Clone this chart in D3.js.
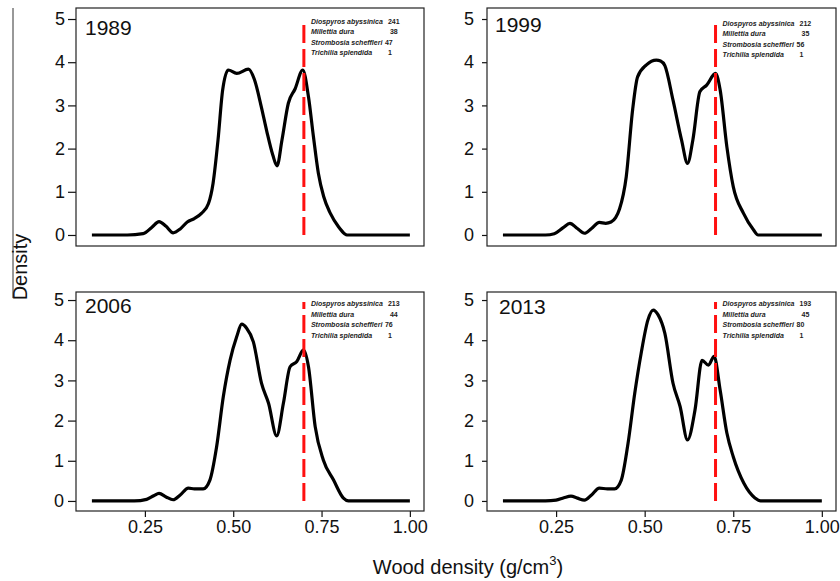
<!DOCTYPE html>
<html>
<head>
<meta charset="utf-8">
<script src="https://cdn.jsdelivr.net/npm/d3@7"></script>
<style>
  body { margin: 0; background: #fff; }
  svg { display: block; }
  text { font-family: "Liberation Sans", Arial, sans-serif; }
</style>
</head>
<body>
<div class="container"></div>
<script>
// data
const years = ["1989", "1999", "2006", "2013"];
const speciesNames = ["Diospyros  abyssinica", "Millettia dura", "Strombosia scheffleri", "Trichilia splendida"];
const counts1989 = [241, 38, 47, 1];
const counts1999 = [212, 35, 56, 1];
const counts2006 = [213, 44, 76, 1];
const counts2013 = [193, 45, 80, 1];
const refLine = 0.7;
const xTicks = [0.25, 0.5, 0.75, 1.0];
const yTicks = [0, 1, 2, 3, 4, 5];

// [wood density, kernel density]
const curve1989 = [[0.10, 0], [0.20, 0], [0.245, 0.03], [0.27, 0.18], [0.29, 0.31], [0.31, 0.2], [0.33, 0.05], [0.35, 0.14],
  [0.37, 0.3], [0.39, 0.38], [0.41, 0.5], [0.43, 0.73], [0.443, 1.2], [0.457, 2.2], [0.47, 3.35], [0.486, 3.82], [0.51, 3.74],
  [0.543, 3.84], [0.56, 3.6], [0.58, 2.95], [0.595, 2.4], [0.612, 1.85], [0.624, 1.6], [0.638, 2.2], [0.656, 3.05],
  [0.675, 3.38], [0.697, 3.82], [0.713, 3.2], [0.727, 2.28], [0.741, 1.43], [0.756, 0.89], [0.775, 0.5], [0.798, 0.19],
  [0.815, 0.03], [0.822, 0], [1.0, 0]];
const curve1999 = [[0.10, 0], [0.22, 0], [0.245, 0.03], [0.27, 0.17], [0.289, 0.27], [0.31, 0.15], [0.33, 0.04], [0.35, 0.15],
  [0.372, 0.29], [0.39, 0.27], [0.405, 0.3], [0.418, 0.4], [0.429, 0.6], [0.448, 1.35], [0.466, 2.9], [0.48, 3.66],
  [0.505, 3.94], [0.533, 4.05], [0.545, 4.03], [0.557, 3.92], [0.58, 3.12], [0.604, 2.2], [0.621, 1.66], [0.636, 2.2],
  [0.656, 3.32], [0.675, 3.47], [0.70, 3.74], [0.713, 3.36], [0.732, 2.04], [0.75, 1.12], [0.779, 0.5], [0.807, 0.12],
  [0.82, 0], [1.0, 0]];
const curve2006 = [[0.10, 0], [0.22, 0], [0.255, 0.04], [0.275, 0.13], [0.29, 0.19], [0.31, 0.1], [0.33, 0.03], [0.35, 0.15],
  [0.373, 0.32], [0.39, 0.3], [0.415, 0.3], [0.434, 0.52], [0.453, 1.35], [0.472, 2.6], [0.491, 3.5], [0.51, 4.09],
  [0.524, 4.4], [0.538, 4.3], [0.557, 3.96], [0.58, 2.93], [0.60, 2.43], [0.623, 1.62], [0.642, 2.43], [0.661, 3.34],
  [0.68, 3.47], [0.699, 3.76], [0.713, 3.34], [0.732, 1.85], [0.755, 1.02], [0.784, 0.52], [0.812, 0.07], [0.826, 0], [1.0, 0]];
const curve2013 = [[0.10, 0], [0.22, 0], [0.25, 0.02], [0.272, 0.08], [0.292, 0.12], [0.31, 0.07], [0.33, 0.02], [0.35, 0.15],
  [0.372, 0.32], [0.395, 0.3], [0.415, 0.3], [0.434, 0.52], [0.453, 1.43], [0.472, 2.68], [0.49, 3.67], [0.509, 4.5],
  [0.524, 4.75], [0.538, 4.63], [0.557, 4.17], [0.58, 2.93], [0.60, 2.35], [0.621, 1.52], [0.642, 2.26], [0.662, 3.5],
  [0.68, 3.38], [0.696, 3.6], [0.713, 2.76], [0.732, 1.69], [0.75, 1.1], [0.78, 0.44], [0.812, 0.07], [0.827, 0], [1.0, 0]];

// panel layout
const panels = [
  { year: years[0], curve: curve1989, counts: counts1989, left: 76, right: 424, top: 8, bottom: 246, yDom: [-0.255, 5.255],
    xAxis: false, tick: 8, pad: 3, yearX: 85, yearY: 35, legY: 23.5 },
  { year: years[1], curve: curve1999, counts: counts1999, left: 487, right: 836, top: 8, bottom: 246, yDom: [-0.255, 5.255],
    xAxis: false, tick: 5, pad: 8, yearX: 495, yearY: 32, legY: 25.5 },
  { year: years[2], curve: curve2006, counts: counts2006, left: 76, right: 424, top: 292, bottom: 511, yDom: [-0.25, 5.2],
    xAxis: true, tick: 8, pad: 4, yearX: 85, yearY: 313, legY: 306 },
  { year: years[3], curve: curve2013, counts: counts2013, left: 487, right: 836, top: 292, bottom: 511, yDom: [-0.25, 5.2],
    xAxis: true, tick: 5, pad: 8, yearX: 499, yearY: 314, legY: 306 }
];
const numOffsets = [84, 86, 81, 84];
const legendFont = '"Liberation Sans", Arial, sans-serif';

const width = 840;
const height = 581;

const svg = d3.select("div.container")
  .append("svg")
  .attr("width", width)
  .attr("height", height);

// stray frame line on the left
svg.append("line").attr("x1", 13).attr("x2", 13).attr("y1", 8).attr("y2", 298)
  .attr("stroke", "#333").attr("stroke-width", 1);

panels.forEach((p) => {
  const x = d3.scaleLinear().domain([0.055, 1.04]).range([p.left, p.right]);
  const y = d3.scaleLinear().domain(p.yDom).range([p.bottom, p.top]);
  const g = svg.append("g");

  // y axis
  const ya = g.append("g").attr("transform", `translate(${p.left},0)`)
    .call(d3.axisLeft(y).tickValues(yTicks).tickFormat(d3.format("d")).tickSize(p.tick).tickPadding(p.pad));
  ya.select(".domain").remove();
  ya.selectAll("line").attr("stroke", "#111").attr("stroke-width", 1.2);
  ya.selectAll("text").attr("font-size", 18).attr("fill", "#111").style("font-family", legendFont);

  // x axis on bottom row only
  if (p.xAxis) {
    const xa = g.append("g").attr("transform", `translate(0,${p.bottom})`)
      .call(d3.axisBottom(x).tickValues(xTicks).tickFormat(d3.format(".2f")).tickSize(6).tickPadding(3));
    xa.select(".domain").remove();
    xa.selectAll("line").attr("stroke", "#111").attr("stroke-width", 1.2);
    xa.selectAll("text").attr("font-size", 18).attr("fill", "#111").style("font-family", legendFont);
  }

  // frame
  g.append("rect").attr("x", p.left).attr("y", p.top)
    .attr("width", p.right - p.left).attr("height", p.bottom - p.top)
    .attr("fill", "none").attr("stroke", "#222").attr("stroke-width", 1.2);

  // density curve (the baseline is part of it)
  const line = d3.line().x((d) => x(d[0])).y((d) => y(d[1])).curve(d3.curveMonotoneX);
  g.append("path").datum(p.curve).attr("d", line)
    .attr("fill", "none").attr("stroke", "#000").attr("stroke-width", 3.2)
    .attr("stroke-linejoin", "round");

  // reference line
  g.append("line").attr("x1", x(refLine)).attr("x2", x(refLine))
    .attr("y1", y(0)).attr("y2", y(4.95))
    .attr("stroke", "#ff1010").attr("stroke-width", 3).attr("stroke-dasharray", "18,6");

  // year label
  g.append("text").attr("x", p.yearX).attr("y", p.yearY).attr("font-size", 21).attr("fill", "#111").text(p.year);

  // species legend
  speciesNames.forEach((name, i) => {
    const ty = p.legY + i * 10.5;
    g.append("text").attr("x", x(refLine) + 7).attr("y", ty)
      .attr("font-size", 7).attr("font-weight", "bold").attr("font-style", "italic").attr("fill", "#222")
      .style("font-family", legendFont)
      .text(name);
    g.append("text").attr("x", x(refLine) + numOffsets[i]).attr("y", ty)
      .attr("font-size", 7).attr("font-weight", "bold").attr("fill", "#222")
      .style("font-family", legendFont)
      .text(p.counts[i]);
  });
});

// axis titles
svg.append("text").attr("transform", "translate(27,267) rotate(-90)")
  .attr("text-anchor", "middle").attr("font-size", 20).attr("fill", "#111").text("Density");

const xl = svg.append("text").attr("x", 468).attr("y", 574)
  .attr("text-anchor", "middle").attr("font-size", 20).attr("fill", "#111");
xl.append("tspan").text("Wood density (g/cm");
xl.append("tspan").attr("font-size", 13).attr("dy", -9).text("3");
xl.append("tspan").attr("dy", 9).text(")");
</script>
</body>
</html>
